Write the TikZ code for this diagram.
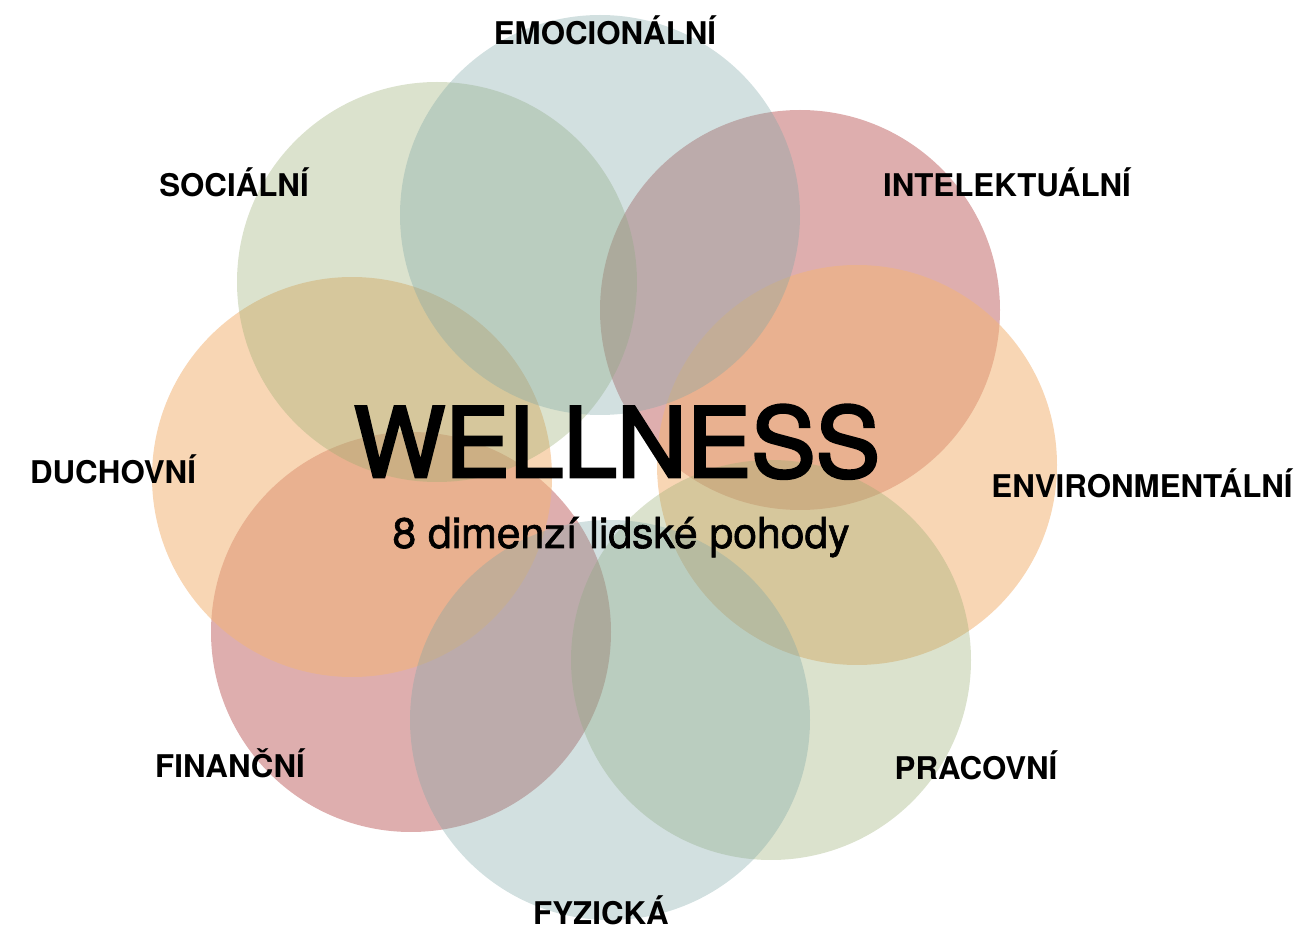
\documentclass[tikz,border=0pt]{standalone}
\usepackage{fontspec}
\setmainfont{TeX Gyre Heros}
\newfontfamily\titlefont{TeX Gyre Heros}[FakeBold=3]
\newfontfamily\subfont{TeX Gyre Heros}[FakeBold=1.5]
\usetikzlibrary{positioning}

% base colours, laid over one another with opacity
\definecolor{dimblue}{RGB}{126,166,166}
\definecolor{dimgreen}{RGB}{152,172,112}
\definecolor{dimred}{RGB}{195,108,108}
\definecolor{dimorange}{RGB}{242,180,119}

\begin{document}
\begin{tikzpicture}[
    x=0.02cm, y=0.02cm,
    petal/.style={draw=none},
    coolpetal/.style={petal, fill opacity=0.35},
    warmpetal/.style={petal, fill opacity=0.55},
    dimlabel/.style={anchor=base, font=\fontsize{17.8}{20}\selectfont\bfseries},
    title/.style={anchor=base, font=\titlefont\fontsize{55}{60}\selectfont},
    subtitle/.style={anchor=base, font=\subfont\fontsize{24.3}{28}\selectfont}
]
    \useasboundingbox (0,0) rectangle (1296,931);

    % Circles: red, then orange, then green, then blue
    \fill [warmpetal, dimred]    (800,621) circle [radius=200];
    \fill [warmpetal, dimred]    (411,299) circle [radius=200];
    \fill [warmpetal, dimorange] (857,466) circle [radius=200];
    \fill [warmpetal, dimorange] (352,454) circle [radius=200];
    \fill [coolpetal, dimgreen]  (771,271) circle [radius=200];
    \fill [coolpetal, dimgreen]  (437,649) circle [radius=200];
    \fill [coolpetal, dimblue]   (600,716) circle [radius=200];
    \fill [coolpetal, dimblue]   (610,211) circle [radius=200];

    % Title
    \node (wellness) [title] at (617,454) {WELLNESS};
    \node (dims) [subtitle] at (621,383) {8 dimenzí lidské pohody};

    % Labels
    \node (emo)   [dimlabel] at (605,886)  {EMOCIONÁLNÍ};
    \node (soc)   [dimlabel] at (234,734)  {SOCIÁLNÍ};
    \node (intel) [dimlabel] at (1007,734) {INTELEKTUÁLNÍ};
    \node (duch)  [dimlabel] at (113,447)  {DUCHOVNÍ};
    \node (env)   [dimlabel] at (1142,433) {ENVIRONMENTÁLNÍ};
    \node (fin)   [dimlabel] at (230,154)  {FINANČNÍ};
    \node (prac)  [dimlabel] at (976,152)  {PRACOVNÍ};
    \node (fyz)   [dimlabel] at (601,7)    {FYZICKÁ};

\end{tikzpicture}
\end{document}
